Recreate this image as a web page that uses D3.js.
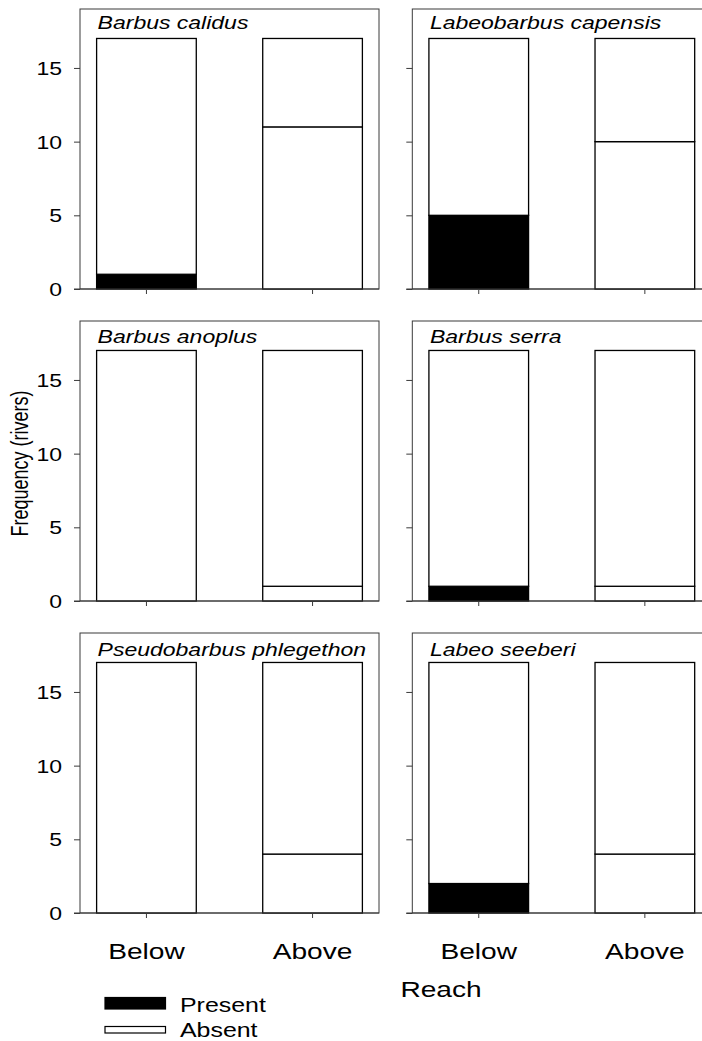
<!DOCTYPE html>
<html>
<head>
<meta charset="utf-8">
<script src="https://cdn.jsdelivr.net/npm/d3@7"></script>
<style>
  html, body { margin: 0; padding: 0; background: #fff; }
  svg { display: block; }
  text { font-family: Arial, "Liberation Sans", Helvetica, sans-serif; fill: #000; }
</style>
</head>
<body>
<svg id="chart" width="702" height="1041"></svg>
<script>
// Fish presence in rivers below and above barriers (17 rivers surveyed)
const species = [
  "Barbus calidus", "Labeobarbus capensis",
  "Barbus anoplus", "Barbus serra",
  "Pseudobarbus phlegethon", "Labeo seeberi"
];
const reaches = ["Below", "Above"];
const totalRivers = [17, 17, 17, 17, 17, 17];
const presentBelow = [1, 5, 0, 1, 0, 2];
const presentAbove = [11, 10, 1, 1, 4, 4];
const yTicks = [0, 5, 10, 15];
const legendLabels = ["Present", "Absent"];

const svg = d3.select("#chart");
const stretch = 1.278;           // horizontal widening of all lettering
const panelW = 299, panelH = 280;
const colLeft = [80, 412.3];
const rowTop = [9, 321, 633];
const titleDy = [19.5, 21.5, 23];

const y = d3.scaleLinear().domain([0, 19]).range([panelH, 0]);

species.forEach((name, i) => {
  const col = i % 2, row = Math.floor(i / 2);
  const x = d3.scaleBand().domain(reaches)
    .range([0, panelW]).paddingInner(0.4).paddingOuter(0.1);
  const g = svg.append("g")
    .attr("transform", `translate(${colLeft[col]},${rowTop[row]})`);

  // panel frame
  g.append("rect")
    .attr("x", 0).attr("y", 0).attr("width", panelW).attr("height", panelH)
    .attr("fill", "none").attr("stroke", "#3a3a3a").attr("stroke-width", 1);

  // stacked bars: present at the bottom, absent on top
  const segs = [
    { reach: "Below", y0: 0, y1: presentBelow[i], fill: "#000" },
    { reach: "Below", y0: presentBelow[i], y1: totalRivers[i], fill: "#fff" },
    { reach: "Above", y0: 0, y1: presentAbove[i], fill: "#fff" },
    { reach: "Above", y0: presentAbove[i], y1: totalRivers[i], fill: "#fff" }
  ].filter(d => d.y1 > d.y0);

  g.selectAll("rect.seg").data(segs).join("rect")
    .attr("class", "seg")
    .attr("x", d => x(d.reach))
    .attr("width", x.bandwidth())
    .attr("y", d => y(d.y1))
    .attr("height", d => y(d.y0) - y(d.y1))
    .attr("fill", d => d.fill)
    .attr("stroke", "#000").attr("stroke-width", 1.3);

  // y axis
  const ya = g.append("g")
    .call(d3.axisLeft(y).tickValues(yTicks).tickSize(6).tickSizeOuter(0)
      .tickFormat(col === 0 ? d3.format("d") : () => ""));
  ya.select(".domain").remove();
  ya.selectAll(".tick line").attr("stroke", "#3a3a3a");
  ya.selectAll(".tick text")
    .attr("x", -18 / stretch).attr("dy", "0.36em")
    .attr("transform", `scale(${stretch},1)`)
    .style("font-size", "18px").style("font-family", "Arial, 'Liberation Sans', sans-serif");

  // baseline extension under the zero tick
  g.append("line").attr("x1", -6).attr("x2", panelW)
    .attr("y1", y(0)).attr("y2", y(0))
    .attr("stroke", "#3a3a3a").attr("stroke-width", 1);

  // x axis
  const xa = g.append("g").attr("transform", `translate(0,${panelH})`)
    .call(d3.axisBottom(x).tickSize(5).tickSizeOuter(0).tickPadding(25)
      .tickFormat(row === 2 ? d => d : () => ""));
  xa.select(".domain").remove();
  xa.selectAll(".tick line").attr("stroke", "#3a3a3a");
  xa.selectAll(".tick text")
    .attr("dy", "0.71em")
    .attr("transform", `scale(${stretch},1)`)
    .style("font-size", "22px").style("font-family", "Arial, 'Liberation Sans', sans-serif");

  // species title
  g.append("text")
    .attr("transform", `translate(${x("Below") + 1},${titleDy[row]}) scale(${stretch},1)`)
    .style("font-size", "18px").style("font-style", "italic")
    .text(name);
});

// axis titles
svg.append("text")
  .attr("transform", `translate(27.5,463.5) scale(${stretch},1) rotate(-90)`)
  .attr("text-anchor", "middle").style("font-size", "18px")
  .text("Frequency (rivers)");

svg.append("text")
  .attr("transform", `translate(441,996.5) scale(${stretch},1)`)
  .attr("text-anchor", "middle").style("font-size", "22px")
  .text("Reach");

// legend
const legendFill = ["#000", "#fff"];
const legendY = [997.5, 1026.5];
const legendH = [11.5, 6.5];
const lg = svg.append("g");
legendLabels.forEach((lab, k) => {
  lg.append("rect")
    .attr("x", 105).attr("y", legendY[k]).attr("width", 60.5).attr("height", legendH[k])
    .attr("fill", legendFill[k]).attr("stroke", "#000").attr("stroke-width", 1.2);
  lg.append("text")
    .attr("transform", `translate(180,${k === 0 ? 1011.5 : 1036.5}) scale(${stretch},1)`)
    .style("font-size", "19.5px")
    .text(lab);
});
</script>
</body>
</html>
